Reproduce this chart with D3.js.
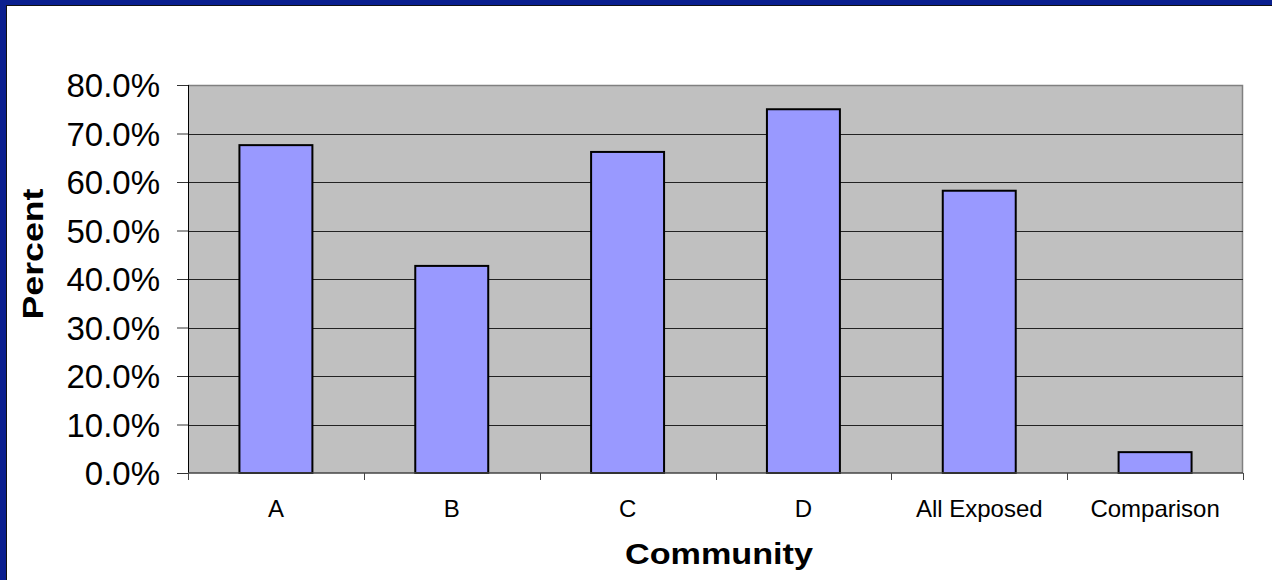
<!DOCTYPE html>
<html>
<head>
<meta charset="utf-8">
<script src="https://cdn.jsdelivr.net/npm/d3@7"></script>
<style>
  body { margin:0; background:#fff; }
  svg { display:block; font-family: Arial, "Liberation Sans", sans-serif; }
</style>
</head>
<body>
<div id="chart"></div>
<script>
const categories = ["A", "B", "C", "D", "All Exposed", "Comparison"];
const percents = [67.6, 42.7, 66.2, 75.0, 58.2, 4.3];
const yTicks = [0, 10, 20, 30, 40, 50, 60, 70, 80];

let width = 1272, height = 580,
    margin = { top:85, left:188, right:29, bottom:107 },
    plotW = width - margin.left - margin.right,
    plotH = height - margin.top - margin.bottom;

let svg = d3.select("#chart").append("svg").attr("width",width).attr("height",height)

// blue frame on left and top
svg.append("rect").attr("x",0).attr("y",0).attr("width",width).attr("height",6).attr("fill","#0a1f8f")
svg.append("rect").attr("x",0).attr("y",0).attr("width",7).attr("height",height).attr("fill","#0a1f8f")
svg.append("line").attr("x1",7).attr("x2",width).attr("y1",5.5).attr("y2",5.5).attr("stroke","#111").attr("stroke-width",1)
svg.append("line").attr("x1",6.5).attr("x2",6.5).attr("y1",5).attr("y2",height).attr("stroke","#111").attr("stroke-width",1)

let xScale = d3.scaleBand().domain(categories).range([0,plotW]).paddingInner(0.585).paddingOuter(0.2925)
let band = d3.scaleBand().domain(categories).range([0,plotW])
let yScale = d3.scaleLinear().domain([0,80]).range([plotH,0])

let g = svg.append("g").attr("transform",`translate(${margin.left},${margin.top})`)

g.append("rect").attr("width",plotW).attr("height",plotH).attr("fill","#c0c0c0")
// plot border (top/right) in gray
g.append("path").attr("d",`M0,0.5H${plotW-0.5}V${plotH}`).attr("fill","none").attr("stroke","#808080").attr("stroke-width",1.5)

// gridlines
g.selectAll(".grid").data(yTicks.filter(d=>d>0 && d<80)).enter()
  .append("line").attr("class","grid")
  .attr("x1",0).attr("x2",plotW)
  .attr("y1",d=>Math.round(yScale(d))+0.5).attr("y2",d=>Math.round(yScale(d))+0.5)
  .attr("stroke","#222").attr("stroke-width",1)

// bars
g.selectAll(".bar").data(percents).enter()
  .append("rect").attr("class","bar")
  .attr("x",(d,i)=>xScale(categories[i]))
  .attr("width",xScale.bandwidth())
  .attr("y",d=>yScale(d))
  .attr("height",d=>plotH-yScale(d))
  .attr("fill","#9999ff").attr("stroke","#000").attr("stroke-width",2)

// y axis
let yAxis = d3.axisLeft(yScale).tickValues(yTicks).tickSize(11).tickPadding(17).tickFormat(d=>d.toFixed(1)+"%")
let yGroup = g.append("g").call(yAxis)
yGroup.select(".domain").attr("stroke","#000").attr("d",`M0.5,0V${plotH}`)
yGroup.selectAll("text").style("font-size","33px").attr("fill","#000").attr("dy","0.35em")
yGroup.selectAll("line").attr("stroke","#333")

// x axis with boundary ticks
let xg = g.append("g").attr("transform",`translate(0,${plotH})`)
xg.append("line").attr("x1",0).attr("x2",plotW).attr("y1",0).attr("y2",0).attr("stroke","#444").attr("stroke-width",1.5)
xg.selectAll(".xt").data(categories.map(c=>band(c)).concat([plotW])).enter()
  .append("line").attr("class","xt")
  .attr("x1",d=>Math.round(d)+0.5).attr("x2",d=>Math.round(d)+0.5).attr("y1",0).attr("y2",7)
  .attr("stroke","#444")
xg.selectAll(".xl").data(categories).enter()
  .append("text").attr("class","xl")
  .attr("x",d=>band(d)+band.bandwidth()/2).attr("y",44)
  .attr("text-anchor","middle").style("font-size","24px").text(d=>d)

// axis titles
svg.append("text").attr("x",719).attr("y",564).attr("text-anchor","middle")
  .attr("textLength",188).attr("lengthAdjust","spacingAndGlyphs")
  .style("font-size","29px").style("font-weight","bold").text("Community")
svg.append("text").attr("transform",`translate(43,254) rotate(-90)`).attr("text-anchor","middle")
  .attr("textLength",131).attr("lengthAdjust","spacingAndGlyphs")
  .style("font-size","29px").style("font-weight","bold").text("Percent")
</script>
</body>
</html>
